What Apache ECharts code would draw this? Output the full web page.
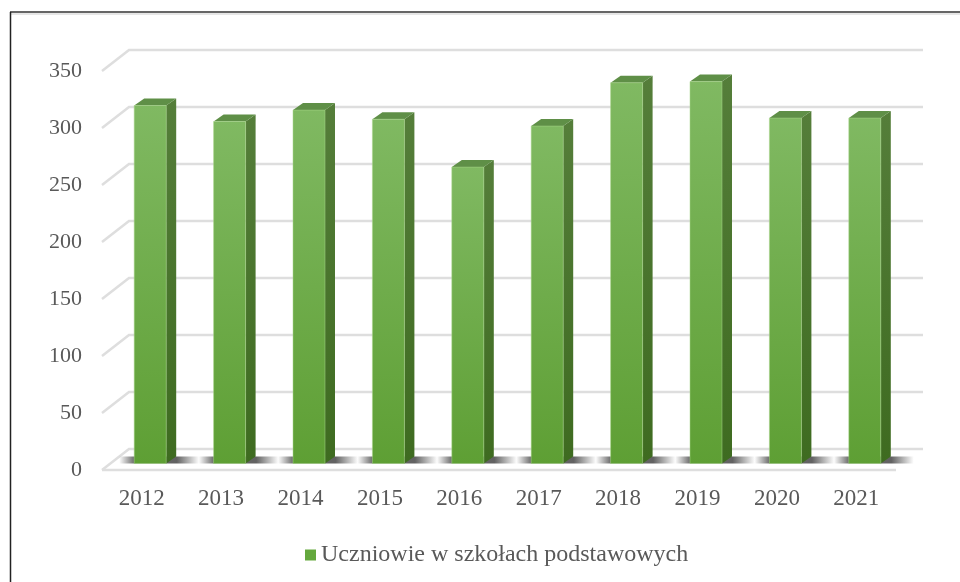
<!DOCTYPE html>
<html>
<head>
<meta charset="utf-8">
<title>Uczniowie w szkołach podstawowych</title>
<script src="https://cdn.jsdelivr.net/npm/echarts@6/dist/echarts.min.js"></script>
<style>
  html, body { margin: 0; padding: 0; background: #fff; }
  #chart { width: 960px; height: 582px; }
</style>
</head>
<body>
<div id="chart"></div>
<script>
const categories = ['2012', '2013', '2014', '2015', '2016', '2017', '2018', '2019', '2020', '2021']
const values = [314, 300, 310, 302, 260, 296, 334, 335, 303, 303]
const yTicks = [0, 50, 100, 150, 200, 250, 300, 350]
const seriesName = 'Uczniowie w szkołach podstawowych'

// oblique depth of the floor/walls and of the bars
const wallDx = 27
const wallDy = -21
const barDx = 10
const barDy = -7
const barInsetX = 8.5
const barInsetY = -6.5
const barWidth = 32
const font = '"Liberation Serif", "Times New Roman", serif'
const textColor = '#595959'

function vertical(top, bottom) {
  return {
    type: 'linear', x: 0, y: 0, x2: 0, y2: 1,
    colorStops: [{ offset: 0, color: top }, { offset: 1, color: bottom }]
  }
}

function renderWall(params, api) {
  const sys = params.coordSys
  const y = api.coord([0, api.value(0)])[1]
  const left = sys.x
  const right = sys.x + sys.width
  const lineStyle = { stroke: '#dedede', lineWidth: 2.5, fill: null }
  const children = [{
    type: 'polyline',
    shape: { points: [[left, y], [left + wallDx, y + wallDy], [right + wallDx, y + wallDy]] },
    style: lineStyle
  }]
  if (api.value(0) === 0) {
    children.push({
      type: 'line',
      shape: { x1: left, y1: y, x2: right, y2: y },
      style: lineStyle
    })
  }
  return { type: 'group', children }
}

function renderShadow(params, api) {
  const base = api.coord([api.value(0), 0])
  const left = base[0] + barInsetX - barWidth / 2
  const right = left + barWidth
  const bottom = base[1] + barInsetY
  const top = bottom + barDy
  const x0 = left - 15
  const x1 = right + 33
  return {
    type: 'polygon',
    shape: { points: [[x0, top], [x1, top], [x1, bottom], [x0, bottom]] },
    style: {
      fill: {
        type: 'linear', x: 0, y: 0, x2: 1, y2: 0,
        colorStops: [
          { offset: 0, color: 'rgba(70,70,70,0)' },
          { offset: 0.19, color: 'rgba(70,70,70,0.8)' },
          { offset: 0.72, color: 'rgba(70,70,70,0.85)' },
          { offset: 1, color: 'rgba(70,70,70,0)' }
        ]
      }
    }
  }
}

function renderBar(params, api) {
  const top = api.coord([api.value(0), api.value(1)])
  const base = api.coord([api.value(0), 0])
  const left = base[0] + barInsetX - barWidth / 2
  const right = left + barWidth
  const yTop = top[1] + barInsetY
  const yBottom = base[1] + barInsetY
  return {
    type: 'group',
    children: [
      {
        type: 'polygon',
        shape: { points: [[right, yTop], [right + barDx, yTop + barDy], [right + barDx, yBottom + barDy], [right, yBottom]] },
        style: { fill: vertical('#557e3a', '#3e6b20') }
      },
      {
        type: 'polygon',
        shape: { points: [[left, yTop], [left + barDx, yTop + barDy], [right + barDx, yTop + barDy], [right, yTop]] },
        style: { fill: '#5f8f47' }
      },
      {
        type: 'rect',
        shape: { x: left, y: yTop, width: barWidth, height: yBottom - yTop },
        style: { fill: vertical('#80b962', '#5e9f34'), stroke: 'rgba(170,215,140,0.5)', lineWidth: 1 }
      }
    ]
  }
}

const chart = echarts.init(document.getElementById('chart'), null, { renderer: 'canvas' })
chart.setOption({
  animation: false,
  backgroundColor: '#fff',
  textStyle: { fontFamily: font },
  grid: { left: 102, right: 64, top: 71, bottom: 112 },
  legend: {
    data: [seriesName],
    left: 300,
    top: 538,
    icon: 'rect',
    itemWidth: 11,
    itemHeight: 11,
    selectedMode: false,
    textStyle: { color: textColor, fontSize: 24, fontFamily: font }
  },
  xAxis: {
    type: 'category',
    data: categories,
    axisLine: { show: false },
    axisTick: { show: false },
    axisLabel: { color: textColor, fontSize: 23, fontFamily: font, margin: 17 }
  },
  yAxis: {
    type: 'value',
    min: 0,
    max: 350,
    interval: 50,
    splitLine: { show: false },
    axisLine: { show: false },
    axisTick: { show: false },
    axisLabel: { color: textColor, fontSize: 22, fontFamily: font, margin: 20 }
  },
  graphic: [
    { type: 'line', shape: { x1: 10, y1: 12, x2: 960, y2: 12 }, style: { stroke: '#333', lineWidth: 1.5 } },
    { type: 'line', shape: { x1: 10, y1: 14, x2: 960, y2: 14 }, style: { stroke: '#e6e6e6', lineWidth: 2 } },
    { type: 'line', shape: { x1: 10.5, y1: 12, x2: 10.5, y2: 582 }, style: { stroke: '#222', lineWidth: 1.5 } }
  ],
  series: [
    {
      type: 'custom',
      silent: true,
      z: 1,
      renderItem: renderWall,
      encode: { y: 0 },
      data: yTicks.map(t => [t])
    },
    {
      type: 'custom',
      silent: true,
      z: 2,
      renderItem: renderShadow,
      encode: { x: 0 },
      data: categories.map((c, i) => [i])
    },
    {
      name: seriesName,
      type: 'custom',
      z: 3,
      itemStyle: { color: '#64a83d' },
      renderItem: renderBar,
      encode: { x: 0, y: 1 },
      data: values.map((v, i) => [i, v])
    }
  ]
})
</script>
</body>
</html>
